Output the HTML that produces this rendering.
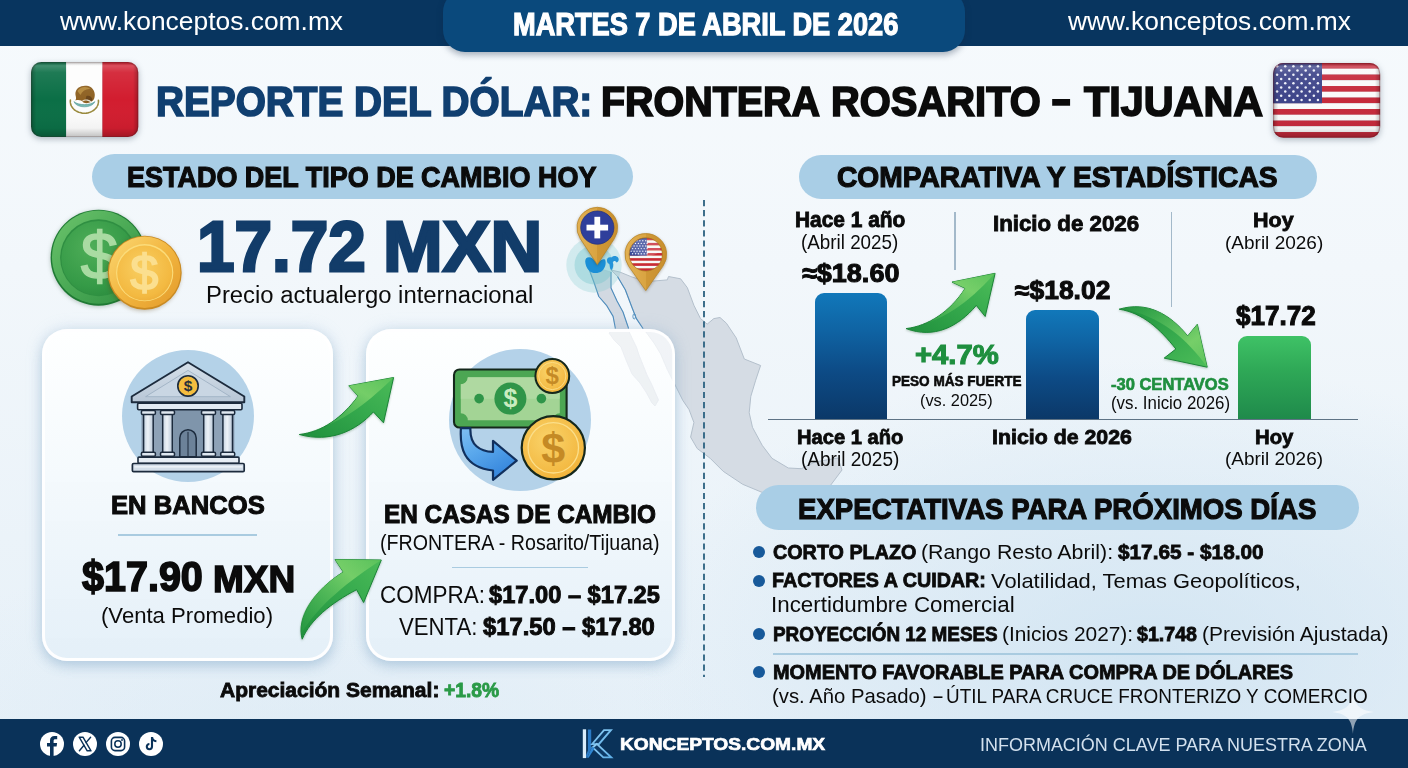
<!DOCTYPE html>
<html lang="es">
<head>
<meta charset="utf-8">
<title>Reporte del Dólar: Frontera Rosarito - Tijuana</title>
<style>
html,body{margin:0;padding:0}
body{width:1408px;height:768px;overflow:hidden;position:relative;
  font-family:"Liberation Sans",sans-serif;
  background:
    radial-gradient(ellipse 700px 400px at 1150px 660px, rgba(205,226,241,.8), rgba(205,226,241,0) 75%),
    radial-gradient(ellipse 600px 260px at 300px 740px, rgba(214,231,243,.45), rgba(214,231,243,0) 75%),
    linear-gradient(180deg,#f6fafd 0%,#f2f7fb 35%,#ebf3f9 70%,#e6f0f8 100%);}
.abs{position:absolute}
.t{position:absolute;white-space:nowrap;line-height:1;transform-origin:0 0;margin:0}
svg{position:absolute;overflow:visible}
#topbar{left:0;top:0;width:1408px;height:45.5px;background:#08355f}
#datepill{left:442.8px;top:-10px;width:522px;height:62.4px;background:#0a497c;border-radius:22px;
  box-shadow:0 3px 6px rgba(20,40,70,.35)}
#footer{left:0;top:719px;width:1408px;height:49px;background:#0a3259}
.pill{background:#a9cee6;border-radius:23px}
.card{border-radius:25px;background:linear-gradient(180deg,rgba(255,255,255,.93) 0%,rgba(246,250,253,.93) 40%,rgba(228,239,248,.95) 100%);
  border:3px solid rgba(255,255,255,.96);box-sizing:border-box;
  box-shadow:0 5px 12px rgba(120,160,195,.38),0 0 16px rgba(150,185,215,.28)}
.bar{border-radius:9px 9px 0 0}
.hr{height:1.6px;background:#a9cbe0}
.vr{width:1.6px;background:#a3b9ca}
.dot{width:12px;height:12px;border-radius:50%;background:#17599a}
</style>
</head>
<body>
<svg width="320" height="260" viewBox="570 250 320 260" style="left:570px;top:250px">
<polygon points="611.0,270.0 619.8,272.0 632.0,277.0 645.0,281.0 654.0,281.0 667.3,279.9 668.5,276.5 680.6,278.8 687.3,287.6 693.9,305.3 700.5,318.6 707.2,324.1 713.8,318.6 720.0,317.5 726.4,323.2 736.2,337.9 744.3,359.0 760.6,365.5 755.7,380.2 750.8,396.4 749.2,412.7 752.5,427.4 762.2,445.3 772.0,458.3 788.3,468.0 801.3,468.7 815.0,462.0 838.0,458.0 842.0,470.0 830.0,486.0 800.0,494.0 775.0,497.0 762.2,492.4 742.7,484.3 723.2,471.3 710.2,458.3 697.2,448.5 690.6,437.1 693.9,422.5 689.0,409.5 682.8,400.4 676.2,387.2 667.3,369.5 660.7,354.0 654.0,343.0 647.4,334.0 643.0,328.5 636.4,318.6 632.0,307.5 625.3,289.8 617.5,276.5" fill="#d5dce4" stroke="#b4c0cc" stroke-width="1" stroke-linejoin="round"/>
<polygon points="587.7,265.5 594.3,283.2 598.8,296.5 606.5,305.3 613.1,316.4 615.4,328.5 609.0,333.0 614.0,340.0 621.0,347.0 626.0,360.0 632.0,374.0 640.0,383.0 646.0,392.0 652.0,403.0 655.0,406.0 658.5,400.0 655.0,392.0 652.0,385.0 647.0,375.0 643.0,365.0 639.0,355.0 636.4,347.0 632.0,338.0 629.7,333.0 628.6,328.5 623.0,312.0 617.0,301.0 611.0,288.0 611.0,272.0" fill="#d2d9e2" stroke="#c6cfd9" stroke-width=".8" stroke-linejoin="round"/>
<polyline points="587.7,265.5 594.3,283.2 598.8,296.5 606.5,305.3 613.1,316.4 615.4,328.5" fill="none" stroke="#4d8cbd" stroke-width="1.1" stroke-linejoin="round"/>
<polyline points="611.0,272.0 611.0,288.0 617.0,301.0 623.0,312.0 628.6,328.5" fill="none" stroke="#4d8cbd" stroke-width="1.1" stroke-linejoin="round"/>
<polyline points="617.5,276.5 625.3,289.8 632.0,307.5 636.4,318.6 643.0,328.5" fill="none" stroke="#4d8cbd" stroke-width="1.1" stroke-linejoin="round"/>
<ellipse cx="634.2" cy="316.4" rx="1.3" ry="2.6" fill="none" stroke="#4d8cbd" stroke-width=".9"/>
</svg>
<div id="topbar" class="abs"></div>
<div id="datepill" class="abs"></div>
<svg width="107.4" height="75.1" viewBox="0 0 107.4 75.1" style="left:30.7px;top:62.4px;filter:drop-shadow(0 2px 3px rgba(40,60,80,.35))">
<defs>
<clipPath id="mxc"><rect x="0" y="0" width="107.4" height="75.1" rx="10.5" ry="10.5"/></clipPath>
<linearGradient id="gloss" x1="0" y1="0" x2="0" y2="1">
<stop offset="0" stop-color="#000" stop-opacity=".18"/><stop offset=".05" stop-color="#fff" stop-opacity=".22"/><stop offset=".14" stop-color="#fff" stop-opacity=".08"/>
<stop offset=".5" stop-color="#fff" stop-opacity="0"/><stop offset=".88" stop-color="#000" stop-opacity=".04"/><stop offset="1" stop-color="#000" stop-opacity=".24"/></linearGradient>
<linearGradient id="glossx" x1="0" y1="0" x2="1" y2="0">
<stop offset="0" stop-color="#000" stop-opacity=".24"/><stop offset=".05" stop-color="#000" stop-opacity="0"/>
<stop offset=".95" stop-color="#000" stop-opacity="0"/><stop offset="1" stop-color="#000" stop-opacity=".24"/></linearGradient>
</defs>
<g clip-path="url(#mxc)">
<rect x="0" y="0" width="35.2" height="75.1" fill="#0b6f46"/>
<rect x="35.2" y="0" width="36.2" height="75.1" fill="#fdfdfd"/>
<rect x="71.4" y="0" width="36.2" height="75.1" fill="#d21d2f"/>
<g transform="translate(53.4,37.1)">
<path d="M-14,1 C-15,9 -7,14.2 0,14.2 C7,14.2 15,9 14,1" fill="none" stroke="#9a8a3c" stroke-width="1.6" stroke-linecap="round" stroke-dasharray="2.2 1.2"/>
<path d="M-10.5,2.5 C-8,9.5 8,9.5 10.5,2.5 C6,6.5 -6,6.5 -10.5,2.5 Z" fill="#78b9b3" stroke="#5a9c98" stroke-width=".6"/>
<path d="M-9,-5 C-9,-12 -2,-14.5 4,-13 C9,-11.5 11.5,-6 10,-1 C8.5,3.5 3,5 -1,3.5 C-3,1 -6,0.5 -9,1.5 C-7.5,-1 -9,-3 -9,-5 Z" fill="#8f6224"/>
<path d="M-7,-8 C-4,-13 3,-13 6,-10 C2,-10.5 -2,-8.5 -4,-4 Z" fill="#b58a3e"/>
<path d="M2,-3 C5,-4 8,-2 8,1 C6,3 3,3 1,1.5 Z" fill="#6b451a"/>
<path d="M-2,2 C1,0 5,1 7,3.2" fill="none" stroke="#e9e2cf" stroke-width="1.1"/>
</g>
<rect x="0" y="0" width="107.4" height="75.1" fill="url(#gloss)"/>
<rect x="0" y="0" width="107.4" height="75.1" fill="url(#glossx)"/>
</g>
<rect x="0.6" y="0.6" width="106.2" height="73.89999999999999" rx="10" ry="10" fill="none" stroke="rgba(60,30,30,.22)" stroke-width="1.2"/>
</svg>
<svg width="107.3" height="74.8" viewBox="0 0 107.3 74.8" style="left:1273px;top:62.5px;filter:drop-shadow(0 2px 3px rgba(40,60,80,.35))">
<defs><clipPath id="usc"><rect x="0" y="0" width="107.3" height="74.8" rx="10.5" ry="10.5"/></clipPath></defs>
<g clip-path="url(#usc)">
<rect x="0" y="0.00" width="107.3" height="5.80" fill="#c62a3b"/><rect x="0" y="5.75" width="107.3" height="5.80" fill="#fafafa"/><rect x="0" y="11.51" width="107.3" height="5.80" fill="#c62a3b"/><rect x="0" y="17.26" width="107.3" height="5.80" fill="#fafafa"/><rect x="0" y="23.02" width="107.3" height="5.80" fill="#c62a3b"/><rect x="0" y="28.77" width="107.3" height="5.80" fill="#fafafa"/><rect x="0" y="34.52" width="107.3" height="5.80" fill="#c62a3b"/><rect x="0" y="40.28" width="107.3" height="5.80" fill="#fafafa"/><rect x="0" y="46.03" width="107.3" height="5.80" fill="#c62a3b"/><rect x="0" y="51.78" width="107.3" height="5.80" fill="#fafafa"/><rect x="0" y="57.54" width="107.3" height="5.80" fill="#c62a3b"/><rect x="0" y="63.29" width="107.3" height="5.80" fill="#fafafa"/><rect x="0" y="69.05" width="107.3" height="5.80" fill="#c62a3b"/>
<rect x="0" y="0" width="49" height="40.28" fill="#3d4489"/>
<circle cx="4.08" cy="3.18" r="1.25" fill="#eef1fa"/><circle cx="12.25" cy="3.18" r="1.25" fill="#eef1fa"/><circle cx="20.42" cy="3.18" r="1.25" fill="#eef1fa"/><circle cx="28.58" cy="3.18" r="1.25" fill="#eef1fa"/><circle cx="36.75" cy="3.18" r="1.25" fill="#eef1fa"/><circle cx="44.92" cy="3.18" r="1.25" fill="#eef1fa"/><circle cx="8.17" cy="7.42" r="1.25" fill="#eef1fa"/><circle cx="16.33" cy="7.42" r="1.25" fill="#eef1fa"/><circle cx="24.50" cy="7.42" r="1.25" fill="#eef1fa"/><circle cx="32.67" cy="7.42" r="1.25" fill="#eef1fa"/><circle cx="40.83" cy="7.42" r="1.25" fill="#eef1fa"/><circle cx="4.08" cy="11.66" r="1.25" fill="#eef1fa"/><circle cx="12.25" cy="11.66" r="1.25" fill="#eef1fa"/><circle cx="20.42" cy="11.66" r="1.25" fill="#eef1fa"/><circle cx="28.58" cy="11.66" r="1.25" fill="#eef1fa"/><circle cx="36.75" cy="11.66" r="1.25" fill="#eef1fa"/><circle cx="44.92" cy="11.66" r="1.25" fill="#eef1fa"/><circle cx="8.17" cy="15.90" r="1.25" fill="#eef1fa"/><circle cx="16.33" cy="15.90" r="1.25" fill="#eef1fa"/><circle cx="24.50" cy="15.90" r="1.25" fill="#eef1fa"/><circle cx="32.67" cy="15.90" r="1.25" fill="#eef1fa"/><circle cx="40.83" cy="15.90" r="1.25" fill="#eef1fa"/><circle cx="4.08" cy="20.14" r="1.25" fill="#eef1fa"/><circle cx="12.25" cy="20.14" r="1.25" fill="#eef1fa"/><circle cx="20.42" cy="20.14" r="1.25" fill="#eef1fa"/><circle cx="28.58" cy="20.14" r="1.25" fill="#eef1fa"/><circle cx="36.75" cy="20.14" r="1.25" fill="#eef1fa"/><circle cx="44.92" cy="20.14" r="1.25" fill="#eef1fa"/><circle cx="8.17" cy="24.38" r="1.25" fill="#eef1fa"/><circle cx="16.33" cy="24.38" r="1.25" fill="#eef1fa"/><circle cx="24.50" cy="24.38" r="1.25" fill="#eef1fa"/><circle cx="32.67" cy="24.38" r="1.25" fill="#eef1fa"/><circle cx="40.83" cy="24.38" r="1.25" fill="#eef1fa"/><circle cx="4.08" cy="28.62" r="1.25" fill="#eef1fa"/><circle cx="12.25" cy="28.62" r="1.25" fill="#eef1fa"/><circle cx="20.42" cy="28.62" r="1.25" fill="#eef1fa"/><circle cx="28.58" cy="28.62" r="1.25" fill="#eef1fa"/><circle cx="36.75" cy="28.62" r="1.25" fill="#eef1fa"/><circle cx="44.92" cy="28.62" r="1.25" fill="#eef1fa"/><circle cx="8.17" cy="32.86" r="1.25" fill="#eef1fa"/><circle cx="16.33" cy="32.86" r="1.25" fill="#eef1fa"/><circle cx="24.50" cy="32.86" r="1.25" fill="#eef1fa"/><circle cx="32.67" cy="32.86" r="1.25" fill="#eef1fa"/><circle cx="40.83" cy="32.86" r="1.25" fill="#eef1fa"/><circle cx="4.08" cy="37.10" r="1.25" fill="#eef1fa"/><circle cx="12.25" cy="37.10" r="1.25" fill="#eef1fa"/><circle cx="20.42" cy="37.10" r="1.25" fill="#eef1fa"/><circle cx="28.58" cy="37.10" r="1.25" fill="#eef1fa"/><circle cx="36.75" cy="37.10" r="1.25" fill="#eef1fa"/><circle cx="44.92" cy="37.10" r="1.25" fill="#eef1fa"/>
<rect x="0" y="0" width="107.3" height="74.8" fill="url(#gloss)"/>
<rect x="0" y="0" width="107.3" height="74.8" fill="url(#glossx)"/>
</g>
<rect x="0.6" y="0.6" width="106.1" height="73.6" rx="10" ry="10" fill="none" stroke="rgba(110,20,30,.35)" stroke-width="1.2"/>
</svg>
<!-- section pills -->
<div class="abs pill" style="left:91.7px;top:154.4px;width:541.3px;height:44.8px"></div>
<div class="abs pill" style="left:798.6px;top:154.6px;width:518px;height:44.6px"></div>
<div class="abs pill" style="left:756.2px;top:485.2px;width:602.5px;height:44.6px"></div>
<svg width="150" height="120" viewBox="40 200 150 120" style="left:40px;top:200px">
<defs>
<radialGradient id="gcoin" cx=".4" cy=".35" r=".75"><stop offset="0" stop-color="#4fae58"/><stop offset=".7" stop-color="#359a47"/><stop offset="1" stop-color="#2a8a3d"/></radialGradient>
<linearGradient id="grim" x1="0" y1="0" x2="1" y2="1"><stop offset="0" stop-color="#6cc46c"/><stop offset=".5" stop-color="#4aa955"/><stop offset="1" stop-color="#2f8f42"/></linearGradient>
<radialGradient id="ycoin" cx=".45" cy=".4" r=".7"><stop offset="0" stop-color="#f9cf62"/><stop offset=".75" stop-color="#f3b941"/><stop offset="1" stop-color="#eaa733"/></radialGradient>
<linearGradient id="yrim" x1="0" y1="0" x2="1" y2="1"><stop offset="0" stop-color="#fbd873"/><stop offset=".5" stop-color="#f2b640"/><stop offset="1" stop-color="#e39a2a"/></linearGradient>
</defs>
<g filter="drop-shadow(0 1.5px 2px rgba(30,70,40,.3))">
<circle cx="98.6" cy="257.7" r="48" fill="#1f7a34"/>
<circle cx="98.6" cy="257.2" r="46.6" fill="url(#grim)"/>
<circle cx="98.6" cy="257.7" r="38.5" fill="#2f8f42"/>
<circle cx="98.6" cy="258.2" r="37.2" fill="url(#gcoin)"/>
<text x="99.4" y="278.9" text-anchor="middle" font-family="'Liberation Sans',sans-serif" font-weight="400" font-size="67" fill="#a9dba2" stroke="#a9dba2" stroke-width="1.5">$</text>
</g>
<g filter="drop-shadow(-1px 1.5px 2px rgba(90,60,10,.35))">
<circle cx="144.7" cy="272.7" r="37" fill="#c98a22"/>
<circle cx="144.7" cy="272.3" r="35.8" fill="url(#yrim)"/>
<circle cx="144.7" cy="272.7" r="28.6" fill="#fbdc7a"/>
<circle cx="144.7" cy="273.1" r="27.5" fill="url(#ycoin)"/>
<text x="144.3" y="289.6" text-anchor="middle" font-family="'Liberation Sans',sans-serif" font-weight="400" font-size="50.5" fill="#fbdf8f" stroke="#fbdf8f" stroke-width="1.7">$</text>
</g>
</svg>
<svg width="160" height="120" viewBox="555 195 160 120" style="left:555px;top:195px">
<defs>
<linearGradient id="pgold" x1="0" y1="0" x2="1" y2="0"><stop offset="0" stop-color="#e2b052"/><stop offset=".5" stop-color="#d9a441"/><stop offset=".5" stop-color="#cf9836"/><stop offset="1" stop-color="#c98f2e"/></linearGradient>
<clipPath id="usp"><circle cx="645.8" cy="254.4" r="16.6"/></clipPath>
</defs>
<circle cx="594" cy="265" r="27.7" fill="rgba(125,200,205,.28)"/>
<circle cx="594" cy="265" r="19.5" fill="rgba(110,195,200,.35)"/>
<path d="M585.2,261.5 C585,257.5 589,256 592.5,258.5 C594.5,260 596.5,262.5 597.5,263.5 C599,261.5 602,258 605,259.5 C606.5,262.5 605.5,268 602,271 C598,274 592,273.8 589,270.5 C586.5,268 585.4,264.5 585.2,261.5 Z" fill="#1b8fd6"/>
<path d="M607,261 C606.5,258 609,256.5 611.5,257.5 C613,255.5 616.5,255.5 618,257.5 C619.5,259.5 618.5,262 616.5,262.5 C615.5,260.5 613.5,260.5 612.8,262.5 C613.8,265 613.2,268.5 611.2,270.2 C609.5,268.5 610,266 609.3,264 C608,263.5 607.2,262.5 607,261 Z" fill="#2594d9"/>
<g filter="drop-shadow(0 1px 1.5px rgba(60,40,10,.35))">
<path d="M597.30,264.60 L580.33,238.74 A20.3,20.3 0 1 1 614.27,238.74 Z" fill="url(#pgold)" stroke="#b98628" stroke-width=".8" stroke-linejoin="round"/>
<circle cx="597.3" cy="227.6" r="16.6" fill="#2f3f9b"/>
<circle cx="597.3" cy="227.6" r="16.6" fill="none" stroke="#25327f" stroke-width=".8"/>
<rect x="594.4" y="216.8" width="5.8" height="21.6" fill="#fff"/><rect x="586.5" y="224.7" width="21.6" height="5.8" fill="#fff"/>
</g>
<g filter="drop-shadow(0 1px 1.5px rgba(60,40,10,.35))">
<path d="M645.80,290.60 L628.78,266.35 A20.8,20.8 0 1 1 662.82,266.35 Z" fill="url(#pgold)" stroke="#b98628" stroke-width=".8" stroke-linejoin="round"/>
<g clip-path="url(#usp)"><rect x="629.20" y="237.80" width="33.20" height="2.60" fill="#c9283a"/><rect x="629.20" y="240.35" width="33.20" height="2.60" fill="#f7f7f7"/><rect x="629.20" y="242.91" width="33.20" height="2.60" fill="#c9283a"/><rect x="629.20" y="245.46" width="33.20" height="2.60" fill="#f7f7f7"/><rect x="629.20" y="248.02" width="33.20" height="2.60" fill="#c9283a"/><rect x="629.20" y="250.57" width="33.20" height="2.60" fill="#f7f7f7"/><rect x="629.20" y="253.12" width="33.20" height="2.60" fill="#c9283a"/><rect x="629.20" y="255.68" width="33.20" height="2.60" fill="#f7f7f7"/><rect x="629.20" y="258.23" width="33.20" height="2.60" fill="#c9283a"/><rect x="629.20" y="260.78" width="33.20" height="2.60" fill="#f7f7f7"/><rect x="629.20" y="263.34" width="33.20" height="2.60" fill="#c9283a"/><rect x="629.20" y="265.89" width="33.20" height="2.60" fill="#f7f7f7"/><rect x="629.20" y="268.45" width="33.20" height="2.60" fill="#c9283a"/><rect x="629.20" y="237.80" width="17.60" height="17.88" fill="#3a4a9a"/><circle cx="631.20" cy="240.80" r=".7" fill="#e8ecf8"/><circle cx="634.10" cy="240.80" r=".7" fill="#e8ecf8"/><circle cx="637.00" cy="240.80" r=".7" fill="#e8ecf8"/><circle cx="639.90" cy="240.80" r=".7" fill="#e8ecf8"/><circle cx="642.80" cy="240.80" r=".7" fill="#e8ecf8"/><circle cx="645.70" cy="240.80" r=".7" fill="#e8ecf8"/><circle cx="632.60" cy="243.40" r=".7" fill="#e8ecf8"/><circle cx="635.50" cy="243.40" r=".7" fill="#e8ecf8"/><circle cx="638.40" cy="243.40" r=".7" fill="#e8ecf8"/><circle cx="641.30" cy="243.40" r=".7" fill="#e8ecf8"/><circle cx="644.20" cy="243.40" r=".7" fill="#e8ecf8"/><circle cx="647.10" cy="243.40" r=".7" fill="#e8ecf8"/><circle cx="631.20" cy="246.00" r=".7" fill="#e8ecf8"/><circle cx="634.10" cy="246.00" r=".7" fill="#e8ecf8"/><circle cx="637.00" cy="246.00" r=".7" fill="#e8ecf8"/><circle cx="639.90" cy="246.00" r=".7" fill="#e8ecf8"/><circle cx="642.80" cy="246.00" r=".7" fill="#e8ecf8"/><circle cx="645.70" cy="246.00" r=".7" fill="#e8ecf8"/><circle cx="632.60" cy="248.60" r=".7" fill="#e8ecf8"/><circle cx="635.50" cy="248.60" r=".7" fill="#e8ecf8"/><circle cx="638.40" cy="248.60" r=".7" fill="#e8ecf8"/><circle cx="641.30" cy="248.60" r=".7" fill="#e8ecf8"/><circle cx="644.20" cy="248.60" r=".7" fill="#e8ecf8"/><circle cx="647.10" cy="248.60" r=".7" fill="#e8ecf8"/><circle cx="631.20" cy="251.20" r=".7" fill="#e8ecf8"/><circle cx="634.10" cy="251.20" r=".7" fill="#e8ecf8"/><circle cx="637.00" cy="251.20" r=".7" fill="#e8ecf8"/><circle cx="639.90" cy="251.20" r=".7" fill="#e8ecf8"/><circle cx="642.80" cy="251.20" r=".7" fill="#e8ecf8"/><circle cx="645.70" cy="251.20" r=".7" fill="#e8ecf8"/><circle cx="632.60" cy="253.80" r=".7" fill="#e8ecf8"/><circle cx="635.50" cy="253.80" r=".7" fill="#e8ecf8"/><circle cx="638.40" cy="253.80" r=".7" fill="#e8ecf8"/><circle cx="641.30" cy="253.80" r=".7" fill="#e8ecf8"/><circle cx="644.20" cy="253.80" r=".7" fill="#e8ecf8"/><circle cx="647.10" cy="253.80" r=".7" fill="#e8ecf8"/>
<ellipse cx="645.8" cy="247.4" rx="15" ry="9" fill="#fff" opacity=".18"/></g>
<circle cx="645.8" cy="254.4" r="16.6" fill="none" stroke="#a8761f" stroke-width=".8"/>
</g>
</svg>
<!-- cards -->
<div class="abs card" style="left:42.4px;top:329px;width:290.4px;height:331.6px"></div>
<div class="abs card" style="left:365.7px;top:329px;width:309.6px;height:332px"></div>
<div class="abs hr" style="left:118.3px;top:534.3px;width:138.7px"></div>
<div class="abs hr" style="left:451.7px;top:566.5px;width:136.6px"></div>
<svg width="120" height="90" viewBox="600 325 120 90" style="left:600px;top:325px">
<defs><clipPath id="c2clip"><rect x="368.7" y="332" width="303.6" height="326" rx="22" ry="22"/></clipPath></defs>
<g clip-path="url(#c2clip)" opacity=".42">
<polygon points="615.4,328.5 609.0,333.0 614.0,340.0 621.0,347.0 626.0,360.0 632.0,374.0 640.0,383.0 646.0,392.0 652.0,403.0 655.0,406.0 658.5,400.0 655.0,392.0 652.0,385.0 647.0,375.0 643.0,365.0 639.0,355.0 636.4,347.0 632.0,338.0 629.7,333.0 628.6,328.5" fill="#dfe4ea" stroke="#d3dae2" stroke-width=".8" stroke-linejoin="round"/>
<polygon points="643.0,328.5 647.4,334.0 654.0,343.0 660.7,354.0 667.3,369.5 676.2,387.2 682.8,400.4 700.0,400.0 700.0,328.5" fill="#e3e8ee" stroke="#d6dde5" stroke-width=".8" stroke-linejoin="round"/>
</g>
</svg>
<svg width="140" height="140" viewBox="117.6 346.1 140 140" style="left:117.6px;top:346.1px">
<defs>
<linearGradient id="colg" x1="0" y1="0" x2="1" y2="0"><stop offset="0" stop-color="#c4d2e0"/><stop offset=".45" stop-color="#eef3f8"/><stop offset="1" stop-color="#b9c8d8"/></linearGradient>
<linearGradient id="roofg" x1="0" y1="0" x2="0" y2="1"><stop offset="0" stop-color="#d6e0ea"/><stop offset="1" stop-color="#b7c6d6"/></linearGradient>
</defs>
<circle cx="187.6" cy="416.1" r="66" fill="#b4d2e8"/>
<!-- back wall -->
<rect x="141" y="409" width="93" height="48.5" fill="#8ea2b7"/>
<rect x="173" y="410" width="29.5" height="47" fill="#7f95ab"/>
<!-- door -->
<path d="M179.4,456.8 L179.4,438 A8.2,8.2 0 0 1 195.8,438 L195.8,456.8 Z" fill="#6c8299" stroke="#1c2b3d" stroke-width="1.5"/>
<line x1="187.6" y1="432" x2="187.6" y2="456.5" stroke="#1c2b3d" stroke-width="1"/>
<rect x="143.20" y="413.80" width="9.6" height="39.30" fill="url(#colg)" stroke="#1c2b3d" stroke-width="1.5"/><rect x="141.00" y="410.60" width="14" height="4" rx="1.2" fill="#dfe8f1" stroke="#1c2b3d" stroke-width="1.5"/><rect x="141.00" y="452.30" width="14" height="4" rx="1.2" fill="#dfe8f1" stroke="#1c2b3d" stroke-width="1.5"/><rect x="162.30" y="413.80" width="9.6" height="39.30" fill="url(#colg)" stroke="#1c2b3d" stroke-width="1.5"/><rect x="160.10" y="410.60" width="14" height="4" rx="1.2" fill="#dfe8f1" stroke="#1c2b3d" stroke-width="1.5"/><rect x="160.10" y="452.30" width="14" height="4" rx="1.2" fill="#dfe8f1" stroke="#1c2b3d" stroke-width="1.5"/><rect x="203.30" y="413.80" width="9.6" height="39.30" fill="url(#colg)" stroke="#1c2b3d" stroke-width="1.5"/><rect x="201.10" y="410.60" width="14" height="4" rx="1.2" fill="#dfe8f1" stroke="#1c2b3d" stroke-width="1.5"/><rect x="201.10" y="452.30" width="14" height="4" rx="1.2" fill="#dfe8f1" stroke="#1c2b3d" stroke-width="1.5"/><rect x="222.50" y="413.80" width="9.6" height="39.30" fill="url(#colg)" stroke="#1c2b3d" stroke-width="1.5"/><rect x="220.30" y="410.60" width="14" height="4" rx="1.2" fill="#dfe8f1" stroke="#1c2b3d" stroke-width="1.5"/><rect x="220.30" y="452.30" width="14" height="4" rx="1.2" fill="#dfe8f1" stroke="#1c2b3d" stroke-width="1.5"/>
<!-- entablature -->
<rect x="137.2" y="403.3" width="104.4" height="6.6" rx="1.2" fill="#e3ebf3" stroke="#1c2b3d" stroke-width="1.6"/>
<!-- roof -->
<path d="M187.6,362.3 L243.9,396.6 L243.9,402.4 L131.3,402.4 L131.3,396.6 Z" fill="url(#roofg)" stroke="#1c2b3d" stroke-width="1.9" stroke-linejoin="round"/>
<path d="M187.6,370.5 L230,396.8 L145.2,396.8 Z" fill="#c9d6e3" stroke="#9aadc0" stroke-width=".8" stroke-linejoin="round"/>
<!-- coin -->
<circle cx="187.6" cy="386" r="10.2" fill="#f4bd3f" stroke="#1c2b3d" stroke-width="1.6"/>
<text x="187.6" y="391.6" text-anchor="middle" font-family="'Liberation Sans',sans-serif" font-weight="700" font-size="15.5" fill="#2a2f3a">$</text>
<!-- steps -->
<rect x="137.6" y="457.2" width="101" height="6.2" rx="1" fill="#e6edf4" stroke="#1c2b3d" stroke-width="1.6"/>
<rect x="132" y="463.6" width="111.8" height="8.2" rx="1.2" fill="#d3dee9" stroke="#1c2b3d" stroke-width="1.7"/>
<line x1="134" y1="467" x2="242" y2="467" stroke="#f2f6fa" stroke-width="1.4"/>
</svg>
<svg width="150" height="150" viewBox="445.2 345.3 150 150" style="left:445.2px;top:345.3px">
<defs>
<radialGradient id="yc2" cx=".42" cy=".38" r=".75"><stop offset="0" stop-color="#fad36a"/><stop offset=".8" stop-color="#f2b63d"/><stop offset="1" stop-color="#e9a530"/></radialGradient>
<linearGradient id="barrow" x1="0" y1="0" x2=".6" y2="1"><stop offset="0" stop-color="#7fbef2"/><stop offset=".45" stop-color="#5aa8ec"/><stop offset="1" stop-color="#3585dc"/></linearGradient>
</defs>
<circle cx="520.2" cy="420.3" r="71" fill="#b4d2e9"/>
<!-- bill -->
<rect x="454.2" y="369.8" width="112.6" height="58" rx="5.5" fill="#4ca653" stroke="#15281c" stroke-width="2.1"/>
<path d="M468,377.5 L553,377.5 A7,7 0 0 0 560,384.5 L560,413.5 A7,7 0 0 0 553,420.5 L468,420.5 A7,7 0 0 0 461,413.5 L461,384.5 A7,7 0 0 0 468,377.5 Z" fill="#a3d495"/>
<path d="M468,377.5 L553,377.5 A7,7 0 0 0 560,384.5 L560,399 L461,399 L461,384.5 A7,7 0 0 0 468,377.5 Z" fill="#b4dca6" opacity=".7"/>
<circle cx="510.6" cy="398.9" r="16" fill="#2f9549"/>
<text x="510.6" y="407.6" text-anchor="middle" font-family="'Liberation Sans',sans-serif" font-weight="700" font-size="25" fill="#c9ecc0">$</text>
<circle cx="479.3" cy="398.9" r="4.8" fill="#2f9549"/><circle cx="541.6" cy="398.9" r="4.8" fill="#2f9549"/>
<!-- blue arrow -->
<path d="M461.1,428.5 C460.4,440 461.5,448.5 465.3,455 C469.5,462.5 477,469 493.2,470.8 L493.2,480.1 L516.9,461 L493.2,441.2 L493.2,452.2 C480,451.8 470,445.5 470.6,428.5 Z" fill="url(#barrow)" stroke="#11305e" stroke-width="2.2" stroke-linejoin="round"/>
<!-- small coin -->
<circle cx="552.5" cy="376.3" r="16.9" fill="url(#yc2)" stroke="#15281c" stroke-width="2"/>
<circle cx="552.5" cy="376.3" r="13.6" fill="none" stroke="#fbdd84" stroke-width="1"/>
<text x="552.5" y="384.8" text-anchor="middle" font-family="'Liberation Sans',sans-serif" font-weight="700" font-size="24" fill="#c58a25">$</text>
<!-- big coin -->
<circle cx="553.5" cy="448.1" r="31.6" fill="url(#yc2)" stroke="#15281c" stroke-width="2.2"/>
<circle cx="553.5" cy="448.1" r="25.2" fill="none" stroke="#fbdf8a" stroke-width="1.3"/>
<text x="553.5" y="463.8" text-anchor="middle" font-family="'Liberation Sans',sans-serif" font-weight="700" font-size="43" fill="#c58a25">$</text>
</svg>
<svg width="130" height="290" viewBox="290 370 130 290" style="left:290px;top:370px">
<defs>
<linearGradient id="ag1" x1="0" y1="1" x2="1" y2="0"><stop offset="0" stop-color="#1f8f3c"/><stop offset=".55" stop-color="#35a94d"/><stop offset="1" stop-color="#4bbb58"/></linearGradient>
<linearGradient id="ag1h" x1="0" y1="1" x2="1" y2="0"><stop offset="0" stop-color="#3cae50" stop-opacity=".2"/><stop offset=".7" stop-color="#7ed36c"/><stop offset="1" stop-color="#5cc35c"/></linearGradient>
</defs>
<g filter="drop-shadow(0 1px 1.2px rgba(20,80,30,.3))">
<path id="a1" d="M299.3,434.5 C322,432 342,418 358.1,396.1 L348.8,385.8 L393.6,377.5 L383.5,422.8 L373.4,411.9 C356,431 330,443 299.3,434.5 Z" fill="url(#ag1)" stroke="#1a8436" stroke-width="1" stroke-linejoin="round"/>
<path d="M301,434 C323,431.5 343,418 358.1,396.1 L348.8,385.8 L393.6,377.5 C372,398 345,424 301,434 Z" fill="url(#ag1h)" opacity=".85"/>
<path d="M302.2,639.2 C296,618 314,590 343.3,572 L335,559.5 L381.3,560 L363.6,602.5 L356.6,589.7 C331,603 310,620 302.2,639.2 Z" fill="url(#ag1)" stroke="#1a8436" stroke-width="1" stroke-linejoin="round"/>
<path d="M301.3,634 C297,615 314,590 343.3,572 L335,559.5 L381.3,560 C350,580 318,605 301.3,634 Z" fill="url(#ag1h)" opacity=".85"/>
</g>
</svg>
<!-- dashed separator -->
<svg width="4" height="480" style="left:702px;top:199px"><line x1="2" y1="1" x2="2" y2="478" stroke="#356886" stroke-width="1.9" stroke-dasharray="6.2 3.9"/></svg>
<!-- chart -->
<div class="abs vr" style="left:954.4px;top:212px;height:58.4px"></div>
<div class="abs vr" style="left:1170.6px;top:212px;height:95px"></div>
<div class="abs bar" style="left:814.6px;top:292.8px;width:72.2px;height:126.4px;background:linear-gradient(180deg,#1178ba 0%,#0f63a3 30%,#0d4b86 62%,#0b3868 100%)"></div>
<div class="abs bar" style="left:1026.3px;top:309.6px;width:72.4px;height:109.6px;background:linear-gradient(180deg,#1178ba 0%,#0f63a3 30%,#0d4b86 62%,#0b3868 100%)"></div>
<div class="abs bar" style="left:1238.3px;top:336px;width:72.5px;height:83.2px;background:linear-gradient(180deg,#3fc266 0%,#2fa957 40%,#1f8a4b 100%)"></div>
<div class="abs" style="left:768.4px;top:418.6px;width:590px;height:1.7px;background:#5e7385"></div>
<svg width="320" height="110" viewBox="900 265 320 110" style="left:900px;top:265px">
<defs>
<linearGradient id="cg1" x1="0" y1="1" x2="1" y2="0"><stop offset="0" stop-color="#1f8f3c"/><stop offset=".55" stop-color="#36aa4d"/><stop offset="1" stop-color="#4dbd59"/></linearGradient>
<linearGradient id="cg1h" x1="0" y1="1" x2="1" y2="0"><stop offset="0" stop-color="#3cae50" stop-opacity=".2"/><stop offset=".7" stop-color="#80d46d"/><stop offset="1" stop-color="#5ec45d"/></linearGradient>
<linearGradient id="cg2" x1="0" y1="0" x2="1" y2="1"><stop offset="0" stop-color="#1f8f3c"/><stop offset=".55" stop-color="#36aa4d"/><stop offset="1" stop-color="#4dbd59"/></linearGradient>
<linearGradient id="cg2h" x1="0" y1="0" x2="1" y2="1"><stop offset="0" stop-color="#3cae50" stop-opacity=".2"/><stop offset=".7" stop-color="#80d46d"/><stop offset="1" stop-color="#5ec45d"/></linearGradient>
</defs>
<g filter="drop-shadow(0 1px 1.2px rgba(20,80,30,.3))">
<path d="M906.1,328.6 C928,326 950,312 965.2,288.3 L952,282.1 L995.1,273.3 L985.2,316.5 L976.3,305.4 C958,327 934,339 906.1,328.6 Z" fill="url(#cg1)" stroke="#1a8436" stroke-width="1" stroke-linejoin="round"/>
<path d="M908,328.3 C929,325.5 950,312 965.2,288.3 L952,282.1 L995.1,273.3 C975,295 950,320 908,328.3 Z" fill="url(#cg1h)" opacity=".85"/>
<path d="M1119.2,309.2 C1147,301 1170,314 1187.7,336 L1197.3,324.3 L1207.2,367.2 L1164.2,358.1 L1175.9,349 C1160,329 1143,313 1119.2,309.2 Z" fill="url(#cg2)" stroke="#1a8436" stroke-width="1" stroke-linejoin="round"/>
<path d="M1121,308.8 C1147,301 1170,314 1187.7,336 L1197.3,324.3 L1207.2,367.2 C1188,340 1160,315 1121,308.8 Z" fill="url(#cg2h)" opacity=".85"/>
</g>
</svg>
<!-- bullets -->
<div class="abs dot" style="left:752.6px;top:546px"></div>
<div class="abs dot" style="left:752.6px;top:575.4px"></div>
<div class="abs dot" style="left:752.6px;top:628.1px"></div>
<div class="abs dot" style="left:752.6px;top:666.1px"></div>
<div class="abs hr" style="left:773px;top:653.2px;width:585px"></div>
<div id="footer" class="abs"></div>
<svg width="130" height="30" viewBox="37 729 130 30" style="left:37px;top:729px">
<circle cx="52" cy="744" r="12" fill="#fff"/>
<path d="M53.6,756 L53.6,746.6 L56.6,746.6 L57.1,743 L53.6,743 L53.6,740.9 C53.6,739.8 54.1,739.2 55.3,739.2 L57.2,739.2 L57.2,736.1 C56.6,736 55.5,735.9 54.4,735.9 C51.7,735.9 50,737.5 50,740.4 L50,743 L47,743 L47,746.6 L50,746.6 L50,756 Z" fill="#0a3259"/>
<circle cx="85" cy="744" r="12" fill="#fff"/>
<path d="M79.2,737.2 L83,737.2 L91,750.8 L87.2,750.8 Z" fill="none" stroke="#0a3259" stroke-width="1.4" stroke-linejoin="round"/>
<path d="M90.6,737.2 L86,742.6 M84,745.2 L79.4,750.8" stroke="#0a3259" stroke-width="1.4" stroke-linecap="round"/>
<circle cx="118" cy="744" r="12" fill="#fff"/>
<rect x="111.4" y="737.4" width="13.2" height="13.2" rx="3.6" fill="none" stroke="#0a3259" stroke-width="1.6"/>
<circle cx="118" cy="744" r="3.2" fill="none" stroke="#0a3259" stroke-width="1.5"/>
<circle cx="122" cy="740" r=".9" fill="#0a3259"/>
<circle cx="151" cy="744" r="12" fill="#fff"/>
<path d="M152,737 L152,746.6 A2.6,2.6 0 1 1 149.4,744 " fill="none" stroke="#0a3259" stroke-width="2.1" stroke-linecap="butt"/>
<path d="M152,737 C152.3,739.6 154,741 156.4,741.2" fill="none" stroke="#0a3259" stroke-width="2.1"/>
</svg>
<svg width="36" height="36" viewBox="580 725 36 36" style="left:580px;top:725px">
<defs><linearGradient id="kg" x1="0" y1="0" x2="1" y2="1"><stop offset="0" stop-color="#8fcdf3"/><stop offset="1" stop-color="#5fb0e8"/></linearGradient></defs>
<rect x="582.8" y="729.3" width="3.3" height="28.8" fill="#dceefb"/>
<path d="M587.9,729.5 L591.2,729.5 L591.2,748.5 L587.2,757.8 L586.1,757.8 L586.1,755 L587.9,750.5 Z" fill="#2b7bc6"/>
<path d="M592.2,744 L604,730.1 L610.9,730.1 L598.8,744.2 Z" fill="#0d3a66" stroke="url(#kg)" stroke-width="1.9" stroke-linejoin="miter"/>
<path d="M592.6,747.4 L596.8,743.9 L611.2,757.4 L603.3,757.4 Z" fill="#0d3a66" stroke="url(#kg)" stroke-width="1.9" stroke-linejoin="miter"/>
<path d="M591.2,748.5 L592.8,746.6 L594.6,748.6 L588.6,757.8 L587.2,757.8 Z" fill="#2f86d2"/>
</svg>

<svg width="50" height="50" viewBox="1328 687 50 50" style="left:1328px;top:687px">
<path d="M1353,691 C1354.2,704 1358,710 1374,712 C1358,714 1354.2,720 1353,734 C1351.8,720 1348,714 1332,712 C1348,710 1351.8,704 1353,691 Z" fill="#ffffff" opacity=".55"/>
</svg>
<div class="t" style="left:60.16px;top:8px;font-size:26.25px;font-weight:400;color:#ffffff;transform:scaleX(1.0054)">www.konceptos.com.mx</div>
<div class="t" style="left:1068.36px;top:8px;font-size:26.25px;font-weight:400;color:#ffffff;transform:scaleX(1.0051)">www.konceptos.com.mx</div>
<div class="t" style="left:513.07px;top:9px;font-size:31.25px;font-weight:700;color:#ffffff;-webkit-text-stroke:1.25px #ffffff;transform:scaleX(0.8700)">MARTES 7 DE ABRIL DE 2026</div>
<div class="t" style="left:156.24px;top:81px;font-size:42.0px;font-weight:700;color:#103f70;-webkit-text-stroke:1.68px #103f70;transform:scaleX(0.9225)">REPORTE DEL DÓLAR:</div>
<div class="t" style="left:600.78px;top:81px;font-size:42.0px;font-weight:700;color:#0b0b0b;-webkit-text-stroke:1.68px #0b0b0b;transform:scaleX(0.9390)">FRONTERA</div>
<div class="t" style="left:831.12px;top:81px;font-size:42.0px;font-weight:700;color:#0b0b0b;-webkit-text-stroke:1.68px #0b0b0b;transform:scaleX(0.9498)">ROSARITO</div>
<div class="t" style="left:1051.47px;top:79px;font-size:42.0px;font-weight:700;color:#0b0b0b;-webkit-text-stroke:1.68px #0b0b0b;transform:scaleX(1.4512)">-</div>
<div class="t" style="left:1084.42px;top:81px;font-size:42.0px;font-weight:700;color:#0b0b0b;-webkit-text-stroke:1.68px #0b0b0b;transform:scaleX(0.9843)">TIJUANA</div>
<div class="t" style="left:126.55px;top:162px;font-size:29.75px;font-weight:700;color:#0b0b0b;-webkit-text-stroke:1.19px #0b0b0b;transform:scaleX(0.9063)">ESTADO DEL TIPO DE CAMBIO HOY</div>
<div class="t" style="left:836.80px;top:162px;font-size:30.25px;font-weight:700;color:#0b0b0b;-webkit-text-stroke:1.21px #0b0b0b;transform:scaleX(0.9319)">COMPARATIVA Y ESTADÍSTICAS</div>
<div class="t" style="left:798.27px;top:494px;font-size:29.75px;font-weight:700;color:#0b0b0b;-webkit-text-stroke:1.19px #0b0b0b;transform:scaleX(0.9277)">EXPECTATIVAS PARA PRÓXIMOS DÍAS</div>
<div class="t" style="left:197.33px;top:211px;font-size:71.25px;font-weight:700;color:#123c69;-webkit-text-stroke:2.85px #123c69;transform:scaleX(0.9460)">17.72</div>
<div class="t" style="left:383.29px;top:211px;font-size:71.25px;font-weight:700;color:#123c69;-webkit-text-stroke:2.85px #123c69;transform:scaleX(1.0047)">MXN</div>
<div class="t" style="left:206.04px;top:284px;font-size:23.5px;font-weight:400;color:#0b0b0b;transform:scaleX(1.0143)">Precio actualergo internacional</div>
<div class="t" style="left:110.89px;top:492px;font-size:26.5px;font-weight:700;color:#0b0b0b;-webkit-text-stroke:1.06px #0b0b0b;transform:scaleX(0.9667)">EN BANCOS</div>
<div class="t" style="left:82.00px;top:555px;font-size:43.0px;font-weight:700;color:#0b0b0b;-webkit-text-stroke:1.72px #0b0b0b;transform:scaleX(0.9188)">$17.90</div>
<div class="t" style="left:212.60px;top:562px;font-size:36.75px;font-weight:700;color:#0b0b0b;-webkit-text-stroke:1.47px #0b0b0b;transform:scaleX(1.0083)">MXN</div>
<div class="t" style="left:100.95px;top:606px;font-size:21.5px;font-weight:400;color:#0b0b0b;transform:scaleX(1.0281)">(Venta Promedio)</div>
<div class="t" style="left:383.62px;top:501px;font-size:26.5px;font-weight:700;color:#0b0b0b;-webkit-text-stroke:1.06px #0b0b0b;transform:scaleX(0.9188)">EN CASAS DE CAMBIO</div>
<div class="t" style="left:379.91px;top:533px;font-size:21.5px;font-weight:400;color:#0b0b0b;transform:scaleX(0.9126)">(FRONTERA - Rosarito/Tijuana)</div>
<div class="t" style="left:379.68px;top:583px;font-size:24.75px;font-weight:400;color:#0b0b0b;transform:scaleX(0.9096)">COMPRA:</div>
<div class="t" style="left:489.19px;top:583px;font-size:23.75px;font-weight:700;color:#0b0b0b;-webkit-text-stroke:0.95px #0b0b0b;transform:scaleX(0.9955)">$17.00 – $17.25</div>
<div class="t" style="left:398.55px;top:615px;font-size:24.75px;font-weight:400;color:#0b0b0b;transform:scaleX(0.8958)">VENTA:</div>
<div class="t" style="left:483.19px;top:615px;font-size:24.25px;font-weight:700;color:#0b0b0b;-webkit-text-stroke:0.97px #0b0b0b;transform:scaleX(0.9801)">$17.50 – $17.80</div>
<div class="t" style="left:219.76px;top:679px;font-size:21.0px;font-weight:700;color:#0b0b0b;-webkit-text-stroke:0.84px #0b0b0b;transform:scaleX(0.9998)">Apreciación Semanal:</div>
<div class="t" style="left:443.79px;top:679px;font-size:21.0px;font-weight:700;color:#2a9a47;-webkit-text-stroke:0.84px #2a9a47;transform:scaleX(0.9193)">+1.8%</div>
<div class="t" style="left:795.16px;top:209px;font-size:22.25px;font-weight:700;color:#0b0b0b;-webkit-text-stroke:0.89px #0b0b0b;transform:scaleX(0.9384)">Hace 1 año</div>
<div class="t" style="left:801.26px;top:233px;font-size:19.75px;font-weight:400;color:#0b0b0b;transform:scaleX(0.9531)">(Abril 2025)</div>
<div class="t" style="left:802.45px;top:260px;font-size:26.0px;font-weight:700;color:#0b0b0b;-webkit-text-stroke:1.04px #0b0b0b;transform:scaleX(1.0386)">≈$18.60</div>
<div class="t" style="left:992.68px;top:213px;font-size:22.0px;font-weight:700;color:#0b0b0b;-webkit-text-stroke:0.88px #0b0b0b;transform:scaleX(1.0124)">Inicio de 2026</div>
<div class="t" style="left:1015.31px;top:278px;font-size:25.5px;font-weight:700;color:#0b0b0b;-webkit-text-stroke:1.02px #0b0b0b;transform:scaleX(1.0366)">≈$18.02</div>
<div class="t" style="left:1253.09px;top:210px;font-size:20.75px;font-weight:700;color:#0b0b0b;-webkit-text-stroke:0.83px #0b0b0b;transform:scaleX(1.0351)">Hoy</div>
<div class="t" style="left:1225.20px;top:234px;font-size:18.0px;font-weight:400;color:#0b0b0b;transform:scaleX(1.0558)">(Abril 2026)</div>
<div class="t" style="left:1235.51px;top:302px;font-size:28.0px;font-weight:700;color:#0b0b0b;-webkit-text-stroke:1.12px #0b0b0b;transform:scaleX(0.9309)">$17.72</div>
<div class="t" style="left:914.66px;top:342px;font-size:26.75px;font-weight:700;color:#1f8f3f;-webkit-text-stroke:1.07px #1f8f3f;transform:scaleX(1.0935)">+4.7%</div>
<div class="t" style="left:892.02px;top:373px;font-size:15.25px;font-weight:700;color:#0b0b0b;-webkit-text-stroke:0.61px #0b0b0b;transform:scaleX(0.8884)">PESO MÁS FUERTE</div>
<div class="t" style="left:920.27px;top:392px;font-size:17.25px;font-weight:400;color:#0b0b0b;transform:scaleX(0.9470)">(vs. 2025)</div>
<div class="t" style="left:1110.61px;top:377px;font-size:16.0px;font-weight:700;color:#1f8f3f;-webkit-text-stroke:0.64px #1f8f3f;transform:scaleX(1.0317)">-30 CENTAVOS</div>
<div class="t" style="left:1110.87px;top:394px;font-size:18.75px;font-weight:400;color:#0b0b0b;transform:scaleX(0.8998)">(vs. Inicio 2026)</div>
<div class="t" style="left:797.26px;top:426px;font-size:21.0px;font-weight:700;color:#0b0b0b;-webkit-text-stroke:0.84px #0b0b0b;transform:scaleX(0.9579)">Hace 1 año</div>
<div class="t" style="left:801.02px;top:449px;font-size:20.0px;font-weight:400;color:#0b0b0b;transform:scaleX(0.9509)">(Abril 2025)</div>
<div class="t" style="left:992.09px;top:426px;font-size:21.0px;font-weight:700;color:#0b0b0b;-webkit-text-stroke:0.84px #0b0b0b;transform:scaleX(1.0159)">Inicio de 2026</div>
<div class="t" style="left:1255.02px;top:427px;font-size:20.75px;font-weight:700;color:#0b0b0b;-webkit-text-stroke:0.83px #0b0b0b;transform:scaleX(0.9790)">Hoy</div>
<div class="t" style="left:1225.02px;top:449px;font-size:19.25px;font-weight:400;color:#0b0b0b;transform:scaleX(0.9848)">(Abril 2026)</div>
<div class="t" style="left:773.08px;top:542px;font-size:20.5px;font-weight:700;color:#0b0b0b;-webkit-text-stroke:0.82px #0b0b0b;transform:scaleX(0.9633)">CORTO PLAZO</div>
<div class="t" style="left:921.47px;top:542px;font-size:20.75px;font-weight:400;color:#0b0b0b;transform:scaleX(1.0281)">(Rango Resto Abril):</div>
<div class="t" style="left:1118.06px;top:542px;font-size:20.5px;font-weight:700;color:#0b0b0b;-webkit-text-stroke:0.82px #0b0b0b;transform:scaleX(1.0139)">$17.65 - $18.00</div>
<div class="t" style="left:772.47px;top:570px;font-size:20.75px;font-weight:700;color:#0b0b0b;-webkit-text-stroke:0.83px #0b0b0b;transform:scaleX(0.9499)">FACTORES A CUIDAR:</div>
<div class="t" style="left:991.46px;top:571px;font-size:20.25px;font-weight:400;color:#0b0b0b;transform:scaleX(1.0806)">Volatilidad, Temas Geopolíticos,</div>
<div class="t" style="left:771.26px;top:595px;font-size:21.5px;font-weight:400;color:#0b0b0b;transform:scaleX(1.0403)">Incertidumbre Comercial</div>
<div class="t" style="left:772.98px;top:624px;font-size:20.5px;font-weight:700;color:#0b0b0b;-webkit-text-stroke:0.82px #0b0b0b;transform:scaleX(0.9217)">PROYECCIÓN 12 MESES</div>
<div class="t" style="left:1001.93px;top:623px;font-size:21.0px;font-weight:400;color:#0b0b0b;transform:scaleX(0.9940)">(Inicios 2027):</div>
<div class="t" style="left:1137.46px;top:624px;font-size:20.5px;font-weight:700;color:#0b0b0b;-webkit-text-stroke:0.82px #0b0b0b;transform:scaleX(0.9570)">$1.748</div>
<div class="t" style="left:1201.53px;top:623px;font-size:21.0px;font-weight:400;color:#0b0b0b;transform:scaleX(0.9983)">(Previsión Ajustada)</div>
<div class="t" style="left:772.87px;top:662px;font-size:20.5px;font-weight:700;color:#0b0b0b;-webkit-text-stroke:0.82px #0b0b0b;transform:scaleX(0.9722)">MOMENTO FAVORABLE PARA COMPRA DE DÓLARES</div>
<div class="t" style="left:771.62px;top:687px;font-size:19.75px;font-weight:400;color:#0b0b0b;transform:scaleX(1.0276)">(vs. Año Pasado)</div>
<div class="t" style="left:931.54px;top:687px;font-size:19.75px;font-weight:400;color:#0b0b0b;transform:scaleX(1.8327)">-</div>
<div class="t" style="left:945.51px;top:687px;font-size:19.75px;font-weight:400;color:#0b0b0b;transform:scaleX(0.9574)">ÚTIL PARA CRUCE FRONTERIZO Y COMERCIO</div>
<div class="t" style="left:619.58px;top:736px;font-size:17.25px;font-weight:700;color:#ffffff;-webkit-text-stroke:0.69px #ffffff;transform:scaleX(1.1109)">KONCEPTOS.COM.MX</div>
<div class="t" style="left:980.21px;top:736px;font-size:18.0px;font-weight:400;color:#d3e1ee;transform:scaleX(0.9984)">INFORMACIÓN CLAVE PARA NUESTRA ZONA</div>
</body>
</html>
